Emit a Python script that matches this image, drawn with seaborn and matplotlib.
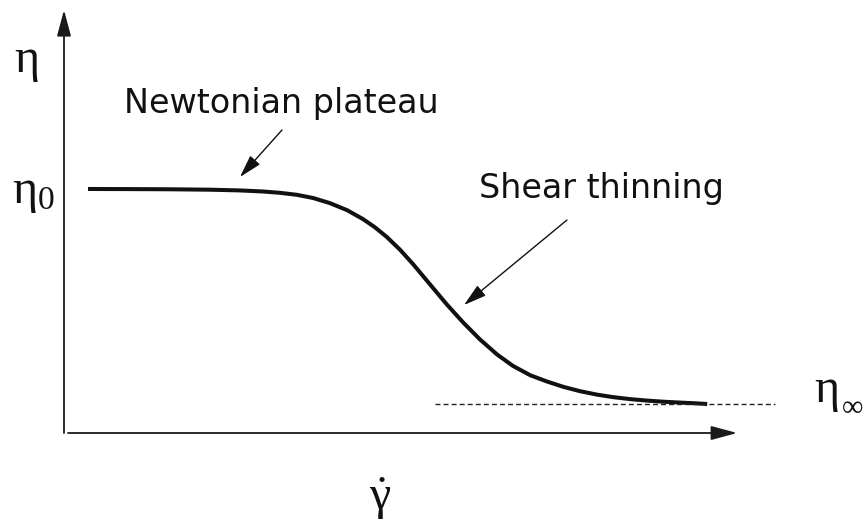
import matplotlib
matplotlib.use("Agg")
import matplotlib.pyplot as plt
import seaborn as sns
import pandas as pd

# Flow curve of a shear-thinning fluid: viscosity against shear rate (schematic units)
shear_rate = [0.40, 1.10, 1.77, 2.43, 2.93, 3.32, 3.60, 3.88, 4.15, 4.43,
              4.72, 4.98, 5.18, 5.38, 5.60, 5.82, 6.10, 6.38, 6.65, 6.93,
              7.22, 7.48, 7.77, 8.05, 8.32, 8.60, 8.88, 9.15, 9.43, 9.72,
              9.98, 10.27, 10.52, 10.72]
viscosity = [4.067, 4.065, 4.062, 4.055, 4.043, 4.025, 4.003, 3.970, 3.917, 3.832,
             3.713, 3.567, 3.430, 3.267, 3.055, 2.812, 2.477, 2.143, 1.845, 1.562,
             1.307, 1.120, 0.963, 0.858, 0.770, 0.697, 0.640, 0.598, 0.565, 0.540,
             0.522, 0.507, 0.495, 0.483]

eta_inf = 0.483                # high-shear limiting viscosity
eta_inf_span = [6.18, 11.85]   # extent of the asymptote guide line

labels = {
    "plateau": "Newtonian plateau",
    "thinning": "Shear thinning",
}

sns.set_theme(style="white")
plt.rcParams["mathtext.fontset"] = "custom"
plt.rcParams["mathtext.rm"] = "Liberation Serif"
plt.rcParams["mathtext.default"] = "rm"

fig = plt.figure(figsize=(8.66, 5.21), dpi=100)
ax = fig.add_axes([0, 0, 1, 1])
ax.set_xlim(-1.0667, 13.3667)
ax.set_ylim(-1.4667, 7.2167)
ax.set_axis_off()

df = pd.DataFrame({"shear_rate": shear_rate, "viscosity": viscosity})
sns.lineplot(data=df, x="shear_rate", y="viscosity", sort=False, estimator=None,
             color="#111111", lw=2.9, ax=ax, solid_capstyle="butt",
             solid_joinstyle="round")

# asymptote at eta_infinity
ax.plot(eta_inf_span, [eta_inf, eta_inf], color="#222222", lw=1.0,
        dashes=(3.6, 2.2))

# coordinate axes drawn as arrows
axis_style = "-|>,head_length=16,head_width=4.3"
ax.annotate("", xy=(0, 7.05), xytext=(0, 0),
            arrowprops=dict(arrowstyle=axis_style, color="#1a1a1a", lw=1.3,
                            mutation_scale=1, shrinkA=0, shrinkB=0))
ax.annotate("", xy=(11.22, 0), xytext=(0.067, 0),
            arrowprops=dict(arrowstyle=axis_style, color="#1a1a1a", lw=1.3,
                            mutation_scale=1, shrinkA=0, shrinkB=0))

# region callouts
call_style = "-|>,head_length=14,head_width=4"
ax.annotate("", xy=(2.933, 4.267), xytext=(3.633, 5.05),
            arrowprops=dict(arrowstyle=call_style, color="#111111", lw=1.0,
                            mutation_scale=1, shrinkA=0, shrinkB=0))
ax.annotate("", xy=(6.667, 2.133), xytext=(8.383, 3.55),
            arrowprops=dict(arrowstyle=call_style, color="#111111", lw=1.0,
                            mutation_scale=1, shrinkA=0, shrinkB=0))

sans = dict(family="DejaVu Sans", fontsize=24, color="#111111",
            ha="left", va="baseline")
ax.text(1.0, 5.333, labels["plateau"], **sans)
ax.text(6.92, 3.917, labels["thinning"], **sans)

serif = dict(family="Liberation Serif", color="#111111", ha="left", va="baseline")
ax.text(-0.83, 6.017, "η", fontsize=34.5, **serif)
ax.text(-0.86, 3.833, r"$\eta_0$", fontsize=34.5, color="#111111",
        ha="left", va="baseline")
ax.text(12.50, 0.517, "η", fontsize=34.5, **serif)
ax.text(12.97, 0.283, "∞", fontsize=21.6, **serif)
ax.text(5.08, -1.283, r"$\dot{\gamma}$", fontsize=34.5, color="#111111",
        ha="left", va="baseline")

fig.savefig("out.png", dpi=100)
